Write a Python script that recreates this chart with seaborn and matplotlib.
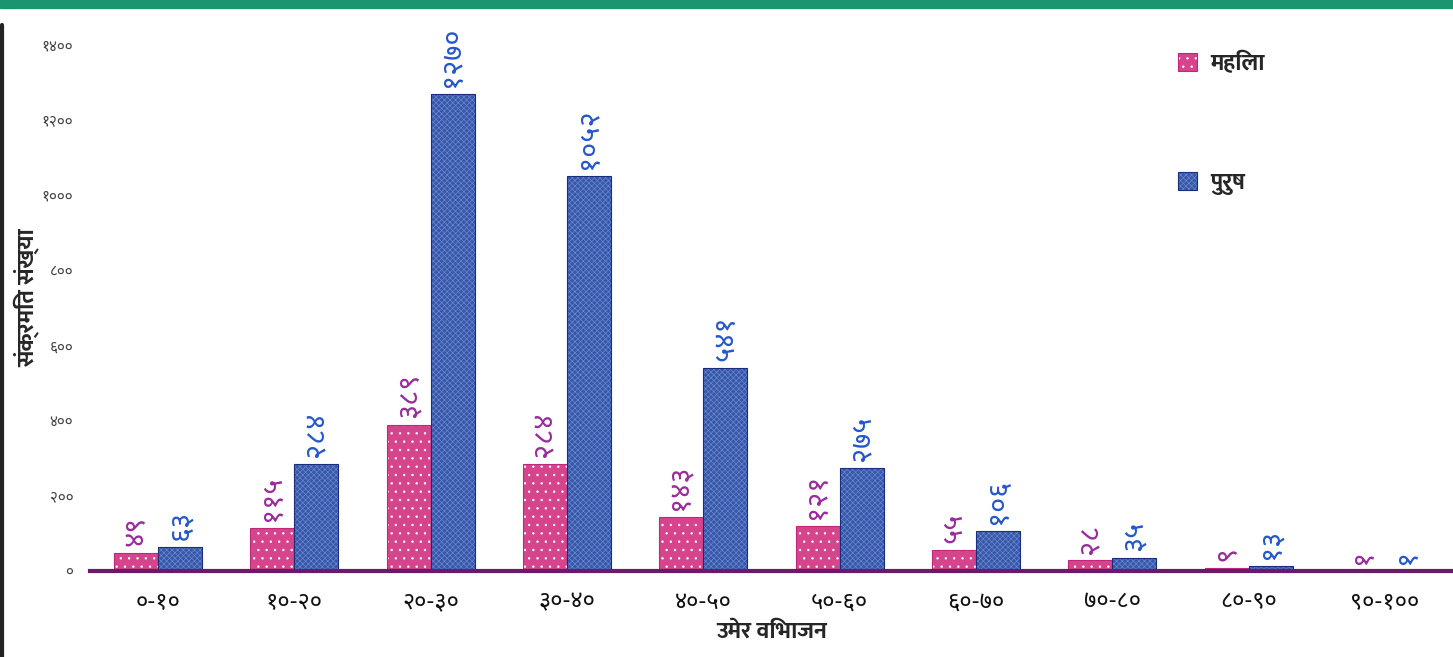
import pandas as pd
import matplotlib
matplotlib.use("Agg")
import matplotlib.pyplot as plt
import seaborn as sns
from matplotlib.lines import Line2D
from matplotlib.patches import Rectangle

# data
age_groups = ["०-१०", "१०-२०", "२०-३०", "३०-४०", "४०-५०",
              "५०-६०", "६०-७०", "७०-८०", "८०-९०", "९०-१००"]
female = [49, 115, 389, 284, 143, 121, 55, 28, 9, 1]
male = [63, 284, 1270, 1052, 541, 275, 106, 35, 13, 1]
series_names = ["महिला", "पुरुष"]
y_ticks = [0, 200, 400, 600, 800, 1000, 1200, 1400]

sns.set_style("white")
plt.rcParams['font.family'] = ['Noto Sans Devanagari', 'DejaVu Sans']
plt.rcParams['hatch.linewidth'] = 0.5
bold_font = {"family": ["Mukta", "Hind", "DejaVu Sans"], "weight": "bold", "size": 17}

to_deva = str.maketrans("0123456789", "०१२३४५६७८९")

df = pd.DataFrame({
    "age": age_groups * 2,
    "count": female + male,
    "sex": [series_names[0]] * len(female) + [series_names[1]] * len(male),
})

fig = plt.figure(figsize=(14.53, 6.57), dpi=100)
ax = fig.add_axes([90 / 1453, 86 / 657, 1363 / 1453, 546 / 657])

sns.barplot(data=df, x="age", y="count", hue="sex", order=age_groups,
            hue_order=series_names, palette=["#ee2c8c", "#2a50b2"],
            width=0.646, ax=ax, legend=False)

styles = [("#c0277a", "white", ".."), ("#1b2d78", "#6088dc", "xxxxxx")]
label_colors = ["#9a2a9c", "#2457cc"]
for cont, (edge, hcol, hatch), vals, lc in zip(ax.containers, styles, [female, male], label_colors):
    for p in cont:
        p.set_hatch(hatch)
        p.set_edgecolor(edge)
        p.set_linewidth(0.8)
        p._hatch_color = matplotlib.colors.to_rgba(hcol)
    ax.bar_label(cont, labels=[str(v).translate(to_deva) for v in vals],
                 rotation=90, padding=5, color=lc, fontsize=21)

ax.set_xlim(-0.5, 9.5)
ax.set_ylim(0, 546 / 0.3757)
ax.set_yticks(y_ticks)
ax.set_yticklabels([str(v).translate(to_deva) for v in y_ticks], fontsize=11, color="#444444")
ax.tick_params(axis="y", length=0, pad=12)
ax.tick_params(axis="x", length=0, pad=14, labelsize=17, labelcolor="#111111")
for s in ["top", "right", "left"]:
    ax.spines[s].set_visible(False)
ax.spines["bottom"].set_color("#6b1a6b")
ax.spines["bottom"].set_linewidth(3)

ax.set_xlabel("उमेर विभाजन", fontdict=bold_font, labelpad=4)
ax.set_ylabel("संक्रमित संख्या", fontdict=bold_font)
ax.yaxis.set_label_coords(-0.036, 0.5)

ax.legend([ax.containers[0][0], ax.containers[1][0]], series_names,
          loc="upper left", bbox_to_anchor=(0.798, 0.95), frameon=False,
          borderpad=0, borderaxespad=0, handlelength=0.8, handleheight=0.8,
          handletextpad=0.6, labelspacing=4.0, prop=bold_font)

# screenshot frame: green band on top, dark edge on the left
fig.add_artist(Rectangle((0, 1 - 8 / 657), 1, 8 / 657, transform=fig.transFigure,
                         color="#1b9470", zorder=5))
fig.add_artist(Line2D([2 / 1453, 2 / 1453], [0, 1 - 25 / 657], transform=fig.transFigure,
                      color="#222222", linewidth=3))

fig.savefig("out.png", dpi=100)
